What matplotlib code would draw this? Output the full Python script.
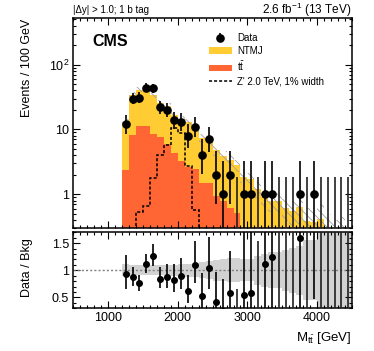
import math
import numpy as np
import matplotlib
matplotlib.use("Agg")
import matplotlib.pyplot as plt
from matplotlib.patches import Patch
from matplotlib.lines import Line2D

plt.rcParams['font.family'] = ['Liberation Sans', 'DejaVu Sans']
plt.rcParams['mathtext.fontset'] = 'custom'
plt.rcParams['mathtext.rm'] = 'Liberation Sans'
plt.rcParams['mathtext.it'] = 'Liberation Sans:italic'
plt.rcParams['hatch.linewidth'] = 0.6

# 100 GeV bins from 1200 to 4500 GeV
edges = np.arange(1200, 4501, 100)

data = [12, 30, 31, 44, 43, 22, 20, 14, 13, 8, 11, 4, 7, 2, 1, 2, 0,
        1, 1, 0, 1, 1, 0, 0, 0, 1, 0, 1, 0, 0, 0, 0, 0]

# total background (NTMJ + ttbar)
bkg_total = [13, 34.5, 41, 39.5, 34, 26, 23, 17, 14.5, 13, 10, 7.5, 6.7, 4.8,
             3.9, 3.4, 2.8, 1.85, 1.75, 1.2, 0.9, 0.8, 0.78, 0.62, 0.55, 0.63,
             0.39, 0.37, 0.41, 0.25, 0.2, 0.22, 0.15]

ttbar = [2.4, 8.1, 11.2, 11.5, 8.4, 7.7, 5.9, 4.3, 3.25, 2.66, 2.45, 1.5, 1.5,
         0.94, 0.78, 0.62, 0.52, 0.28, 0.22, 0.18, 0.15, 0.12, 0.1, 0.08,
         0.07, 0.06, 0.05, 0.04, 0.03, 0.02, 0.02, 0.02, 0.02]

# relative background uncertainty
bkg_unc = [0.11, 0.1, 0.09, 0.09, 0.09, 0.09, 0.1, 0.1, 0.11, 0.12, 0.13,
           0.15, 0.17, 0.19, 0.2, 0.22, 0.22, 0.2, 0.2, 0.27, 0.3, 0.33,
           0.33, 0.38, 0.42, 0.45, 0.55, 0.55, 0.7, 1.0, 1.0, 1.0, 1.0]

# Z' 2.0 TeV signal, bins 1400 - 2300
sig_edges = np.arange(1400, 2301, 100)
signal = [0.53, 0.66, 1.8, 4.1, 5.7, 10.6, 8.7, 2.7, 0.58]

data = np.array(data, dtype=float)
bkg_total = np.array(bkg_total)
ttbar = np.array(ttbar)
bkg_unc = np.array(bkg_unc)
centers = 0.5 * (edges[:-1] + edges[1:])


def pois_cdf(k, mu):
    return sum(math.exp(-mu + i * math.log(mu) - math.lgamma(i + 1)) for i in range(k + 1))


def garwood(n):
    # 68% central Poisson interval
    n = int(n)
    lo_t, hi_t = 0.0, 200.0
    for _ in range(60):
        m = 0.5 * (lo_t + hi_t)
        if pois_cdf(n, m) > 0.15866:
            lo_t = m
        else:
            hi_t = m
    up = 0.5 * (lo_t + hi_t)
    if n == 0:
        return 0.0, up
    lo_t, hi_t = 1e-9, 200.0
    for _ in range(60):
        m = 0.5 * (lo_t + hi_t)
        if pois_cdf(n - 1, m) > 0.84134:
            lo_t = m
        else:
            hi_t = m
    return 0.5 * (lo_t + hi_t), up


intervals = np.array([garwood(n) for n in data])
err_lo = data - intervals[:, 0]
err_hi = intervals[:, 1] - data

yellow = '#FFCC33'
orange = '#FF6633'

fig = plt.figure(figsize=(3.74, 3.51), dpi=100)
ax = fig.add_axes([0.196, 0.350, 0.745, 0.598])
rax = fig.add_axes([0.196, 0.122, 0.745, 0.216])

floor = 1e-3
ax.stairs(bkg_total, edges, baseline=floor, fill=True, color=yellow, lw=0)
ax.stairs(ttbar, edges, baseline=floor, fill=True, color=orange, lw=0)
ax.stairs(bkg_total * (1 + bkg_unc), edges,
          baseline=np.maximum(bkg_total * (1 - bkg_unc), floor),
          fill=True, facecolor='none', edgecolor='#a0a0a0', hatch='\\\\\\\\', lw=0)
ax.stairs(signal, sig_edges, baseline=floor, color='black', lw=1.1,
          linestyle=(0, (2, 1.3)))

has = data > 0
data_pts = ax.errorbar(centers[has], data[has], yerr=[err_lo[has], err_hi[has]],
                       fmt='o', color='black', ms=5.2, elinewidth=1.2, capsize=0,
                       zorder=5)
ax.vlines(centers[~has], floor, err_hi[~has], color='#202020', lw=1.2, zorder=5)

ax.set_yscale('log')
ax.set_xlim(500, 4500)
ax.set_ylim(0.3, 520)
ax.set_yticks([1, 10, 100])
ax.set_yticklabels(['1', '10', r'$10^{2}$'])
ax.set_xticks(np.arange(1000, 4501, 1000))
ax.set_xticks(np.arange(500, 4501, 100), minor=True)
ax.tick_params(labelbottom=False)

# ratio panel
ratio = data / bkg_total
rax.stairs(1 + bkg_unc, edges, baseline=1 - bkg_unc, fill=True,
           color='#d2d2d2', lw=0)
rax.axhline(1, color='#808080', lw=1, linestyle=(0, (1.5, 1.5)))
rax.errorbar(centers[has], ratio[has],
             yerr=[err_lo[has] / bkg_total[has], err_hi[has] / bkg_total[has]],
             fmt='o', color='black', ms=4, elinewidth=1.2, capsize=0, zorder=5)
rax.vlines(centers[~has], 0, err_hi[~has] / bkg_total[~has], color='#202020',
           lw=1.2, zorder=5)
rax.set_xlim(500, 4500)
rax.set_ylim(0.3, 1.7)
rax.set_yticks([0.5, 1, 1.5])
rax.set_yticklabels(['0.5', '1', '1.5'])
rax.set_yticks(np.arange(0.3, 1.71, 0.1), minor=True)
rax.set_xticks(np.arange(1000, 4501, 1000))
rax.set_xticks(np.arange(500, 4501, 100), minor=True)

for a in (ax, rax):
    a.tick_params(which='both', direction='in', top=True, right=True,
                  labelsize=9, width=0.8)
    a.tick_params(which='major', length=5, pad=3)
    a.tick_params(which='minor', length=2.5)
    for s in a.spines.values():
        s.set_linewidth(1.1)

ax.text(0.0, 1.015, '|\u0394y| > 1.0; 1 b tag', transform=ax.transAxes,
        fontsize=7, ha='left', va='bottom')
ax.text(1.0, 1.018, r'2.6 fb$^{-1}$ (13 TeV)', transform=ax.transAxes,
        fontsize=8.5, ha='right', va='baseline')
ax.text(0.068, 0.925, 'CMS', transform=ax.transAxes, fontsize=11.5,
        fontweight='bold', ha='left', va='top')

handles = [data_pts,
           Patch(facecolor=yellow, edgecolor='none'),
           Patch(facecolor=orange, edgecolor='none'),
           Line2D([], [], color='black', lw=1.1, linestyle=(0, (2, 1.3)))]
labels = ['Data', 'NTMJ', r'$\mathrm{t\bar{t}}$', "Z' 2.0 TeV, 1% width"]
ax.legend(handles, labels, loc='upper left', bbox_to_anchor=(0.488, 0.93),
          frameon=False, fontsize=7, handlelength=2.3, handletextpad=0.6,
          labelspacing=0.33, borderpad=0, borderaxespad=0)

fig.text(27 / 374, 1 - 19 / 351, 'Events / 100 GeV', rotation=90,
         fontsize=9, ha='center', va='top')
fig.text(27 / 374, 1 - 268 / 351, 'Data / Bkg', rotation=90,
         fontsize=9, ha='center', va='center')
fig.text(351 / 374, 1 - 338 / 351, r'M$_{\mathrm{t\bar{t}}}$ [GeV]',
         fontsize=9.5, ha='right', va='center')

fig.savefig('out.png', dpi=100)
